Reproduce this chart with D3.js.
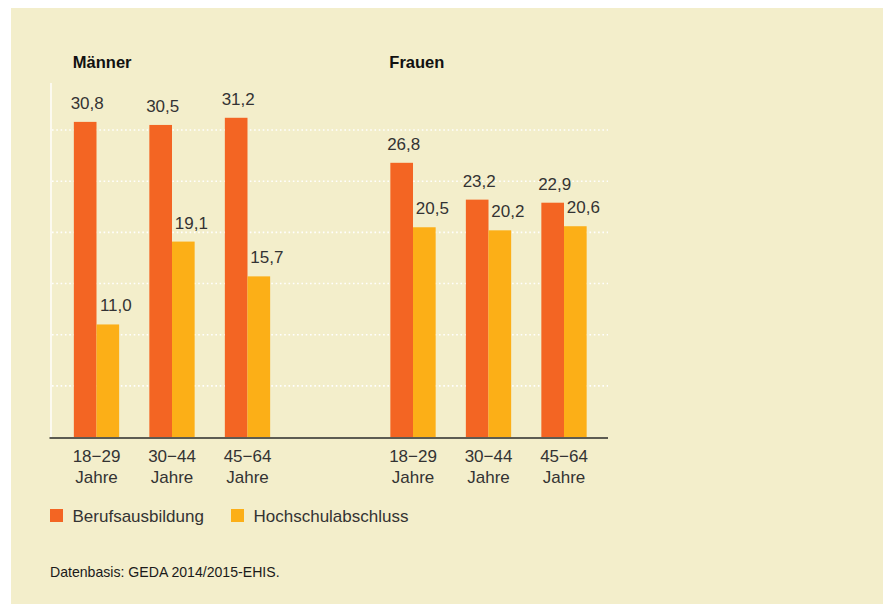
<!DOCTYPE html>
<html><head><meta charset="utf-8">
<script src="https://cdn.jsdelivr.net/npm/d3@7"></script>
<style>html,body{margin:0;padding:0;background:#fff;}svg{display:block;font-family:"Liberation Sans",Arial,Helvetica,sans-serif;}</style>
</head><body>
<script>
const genders = ["Männer", "Frauen"];
const ageGroups = ["18–29", "30–44", "45–64"];
const series = ["Berufsausbildung", "Hochschulabschluss"];
const berufsausbildung = [30.8, 30.5, 31.2, 26.8, 23.2, 22.9];
const hochschulabschluss = [11.0, 19.1, 15.7, 20.5, 20.2, 20.6];
const yTicks = [5, 10, 15, 20, 25, 30];
const footnote = "Datenbasis: GEDA 2014/2015-EHIS.";

const colors = {"Berufsausbildung": "#f36523", "Hochschulabschluss": "#fcaf17"};
const W = 883, H = 604;
const svg = d3.select("body").append("svg").attr("width", W).attr("height", H);
svg.append("rect").attr("x", 11).attr("y", 8).attr("width", W - 11).attr("height", H - 8).attr("fill", "#f3eecb");

const data = [];
genders.forEach((g, gi) => ageGroups.forEach((a, ai) => {
  const i = gi * 3 + ai;
  data.push({g, a, vals: [{s: series[0], v: berufsausbildung[i]}, {s: series[1], v: hochschulabschluss[i]}]});
}));

const y = d3.scaleLinear().domain([0, 34.6]).range([437, 83]);
const x0 = d3.scaleBand().domain(genders).range([58.75, 601.75]).paddingInner(0.2844).paddingOuter(0);
const x1 = d3.scaleBand().domain(ageGroups).range([0, x0.bandwidth()]).paddingInner(0.4).paddingOuter(0.2);
const xs = d3.scaleBand().domain(series).range([0, x1.bandwidth()]);

// grid
const grid = svg.append("g");
grid.selectAll("line").data(yTicks).join("line")
  .attr("x1", 52).attr("x2", 608)
  .attr("y1", d => y(d)).attr("y2", d => y(d))
  .attr("stroke", "#ffffff").attr("stroke-width", 1.6)
  .attr("stroke-dasharray", "1.6,2.7");
svg.append("line").attr("x1", 51).attr("x2", 51).attr("y1", y.range()[1]).attr("y2", y(0))
  .attr("stroke", "#ffffff").attr("stroke-width", 1.4);

// bars
const groups = svg.append("g").selectAll("g").data(data).join("g")
  .attr("transform", d => `translate(${x0(d.g) + x1(d.a)},0)`);
groups.selectAll("rect").data(d => d.vals).join("rect")
  .attr("x", d => xs(d.s)).attr("width", xs.bandwidth())
  .attr("y", d => y(d.v)).attr("height", d => y(0) - y(d.v))
  .attr("fill", d => colors[d.s]);
groups.selectAll("text.val").data(d => d.vals).join("text").attr("class", "val")
  .attr("x", d => xs(d.s) + xs.bandwidth() / 2 + (d.s === series[0] ? 2 : 8))
  .attr("y", d => y(d.v) - 13)
  .attr("text-anchor", "middle").attr("font-size", 17).attr("fill", "#333")
  .text(d => d3.format(".1f")(d.v).replace(".", ","));

// x axis line
svg.append("line").attr("x1", 49.5).attr("x2", 608).attr("y1", y(0) + 1).attr("y2", y(0) + 1)
  .attr("stroke", "#2a2a2a").attr("stroke-width", 1.6);

// x labels
groups.append("text").attr("x", x1.bandwidth() / 2).attr("y", 462)
  .attr("text-anchor", "middle").attr("font-size", 17).attr("fill", "#333")
  .text(d => d.a.replace("–", "−"));
groups.append("text").attr("x", x1.bandwidth() / 2).attr("y", 483)
  .attr("text-anchor", "middle").attr("font-size", 17).attr("fill", "#333")
  .text("Jahre");

// panel titles
svg.append("g").selectAll("text").data(genders).join("text")
  .attr("x", d => x0(d) + x1(ageGroups[0]) - 1).attr("y", 68)
  .attr("font-size", 16.5).attr("font-weight", "bold").attr("fill", "#111")
  .text(d => d);

// legend
const legX = [50, 231];
const leg = svg.append("g").selectAll("g").data(series).join("g")
  .attr("transform", (d, i) => `translate(${legX[i]},509)`);
leg.append("rect").attr("width", 13).attr("height", 13).attr("fill", d => colors[d]);
leg.append("text").attr("x", 22.5).attr("y", 13).attr("font-size", 17).attr("fill", "#333").text(d => d);

svg.append("text").attr("x", 50).attr("y", 577).attr("font-size", 14.1).attr("fill", "#1a1a1a").text(footnote);
</script>
</body></html>
